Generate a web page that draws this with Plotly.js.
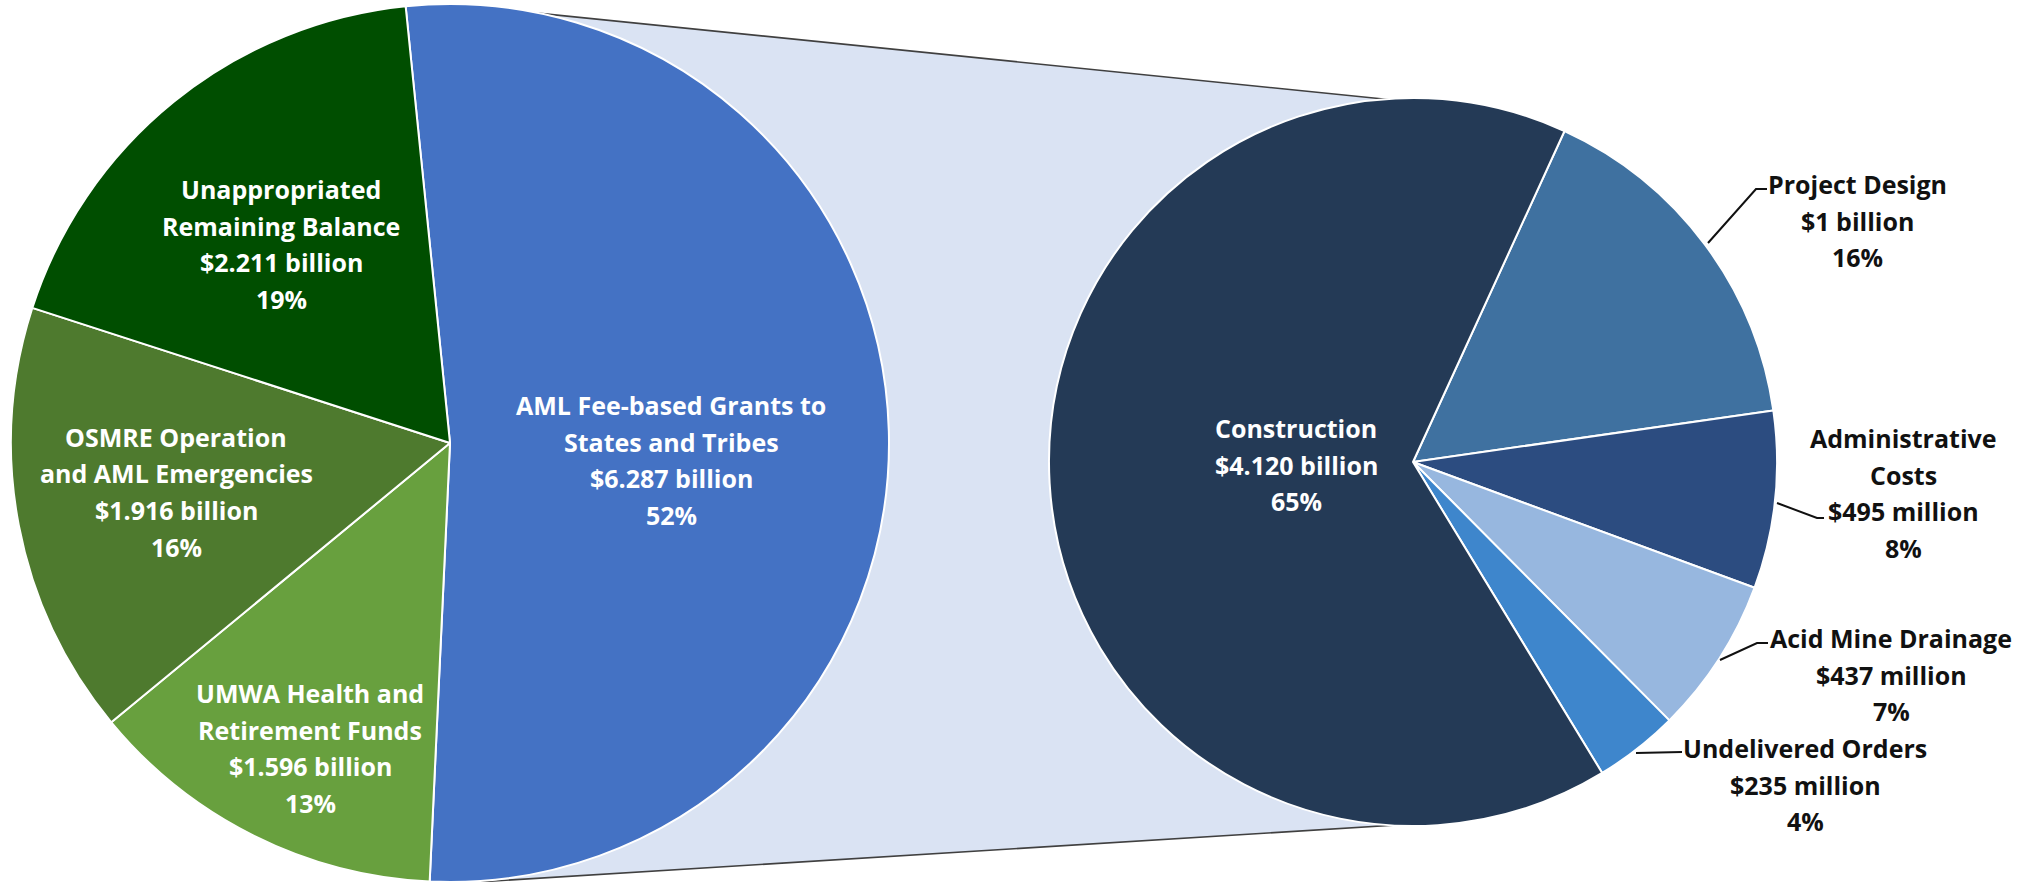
<!DOCTYPE html>
<html><head><meta charset="utf-8">
<script src="https://cdn.plot.ly/plotly-3.0.1.min.js"></script>
<style>html,body{margin:0;padding:0;background:#fff;overflow:hidden}#chart{width:2026px;height:882px}</style>
</head><body><div id="chart"></div>
<script>
// ---- data: first pie ----
const mainLabels = ['AML Fee-based Grants to<br>States and Tribes', 'UMWA Health and<br>Retirement Funds', 'OSMRE Operation<br>and AML Emergencies', 'Unappropriated<br>Remaining Balance'];
const mainValues = [6.287, 1.596, 1.916, 2.211];
const mainAmountText = ['$6.287 billion', '$1.596 billion', '$1.916 billion', '$2.211 billion'];
const mainPercentText = ['52%', '13%', '16%', '19%'];

// ---- data: second pie (breakdown of AML Fee-based Grants) ----
const subLabels = ['Project Design', 'Administrative<br>Costs', 'Acid Mine Drainage', 'Undelivered Orders', 'Construction'];
const subValues = [1.000, 0.495, 0.437, 0.235, 4.120];
const subAmountText = ['$1 billion', '$495 million', '$437 million', '$235 million', '$4.120 billion'];
const subPercentText = ['16%', '8%', '7%', '4%', '65%'];

// ---- styling ----
const mainColors = ['#4472C4', '#68A03E', '#4E7A2E', '#004E00'];
const subColors = ['#3F71A0', '#2C4C80', '#97B7DF', '#3E86CC', '#243A56'];
const mainTextColors = ['#FFFFFF', '#FFFFFF', '#FFFFFF', '#FFFFFF'];
const subTextColors = ['#111111', '#111111', '#111111', '#111111', '#FFFFFF'];
// label block positions in pixels: [center x, first line y]
const mainLabelPos = [[671, 405], [310, 693], [176, 437], [281, 189]];
const subLabelPos = [[1857, 184], [1903, 438], [1891, 638], [1805, 748], [1296, 428]];
const lineGap = 36.5;
const subLeaders = [
  [[1708, 243], [1756, 189], [1767, 189]],
  [[1777, 503], [1817, 518], [1824, 518]],
  [[1720, 660], [1757, 643], [1768, 643]],
  [[1636, 753], [1682, 752]],
  null
];

const W = 2026, H = 882;
const px = x => x / W;
const py = y => 1 - y / H;
const pathOf = pts => pts.map((p, i) => (i ? 'L' : 'M') + px(p[0]).toFixed(5) + ',' + py(p[1]).toFixed(5)).join(' ');

const FONT = 'Open Sans, Lato, sans-serif';

const traces = [
  {
    type: 'pie', labels: mainLabels, values: mainValues, sort: false,
    direction: 'clockwise', rotation: -5.8, textinfo: 'none', hoverinfo: 'label+value',
    marker: {colors: mainColors, line: {color: '#FFFFFF', width: 2}},
    domain: {x: [11 / W, 889 / W], y: [0, 1 - 4 / H]}, showlegend: false
  },
  {
    type: 'pie', labels: subLabels, values: subValues, sort: false,
    direction: 'clockwise', rotation: 24.6, textinfo: 'none', hoverinfo: 'label+value',
    marker: {colors: subColors, line: {color: '#FFFFFF', width: 2}},
    domain: {x: [1049 / W, 1777 / W], y: [1 - 826 / H, 1 - 98 / H]}, showlegend: false
  }
];

const annotations = [];
function addBlock(label, amount, pct, pos, color) {
  const lines = label.split('<br>').concat([amount, pct]);
  lines.forEach((t, i) => {
    annotations.push({
      xref: 'paper', yref: 'paper', x: px(pos[0]), y: py(pos[1] + i * lineGap),
      text: t, showarrow: false, xanchor: 'center', yanchor: 'middle',
      font: {family: FONT, size: 25, weight: 700, color: color}
    });
  });
}
mainLabels.forEach((l, i) => addBlock(l, mainAmountText[i], mainPercentText[i], mainLabelPos[i], mainTextColors[i]));
subLabels.forEach((l, i) => addBlock(l, subAmountText[i], subPercentText[i], subLabelPos[i], subTextColors[i]));

// connector band between the two pies
const topLine = [[480, 7.3], [1413, 102]];
const botLine = [[440, 884.3], [1413, 824]];
const shapes = [
  {type: 'path', xref: 'paper', yref: 'paper', layer: 'below',
   path: pathOf([topLine[0], topLine[1], botLine[1], botLine[0]]) + ' Z',
   fillcolor: '#DAE3F3', line: {width: 0}},
  {type: 'path', xref: 'paper', yref: 'paper', layer: 'below', path: pathOf(topLine), line: {color: '#404040', width: 1.6}},
  {type: 'path', xref: 'paper', yref: 'paper', layer: 'below', path: pathOf(botLine), line: {color: '#404040', width: 1.6}}
];
subLeaders.forEach(pts => {
  if (!pts) return;
  shapes.push({type: 'path', xref: 'paper', yref: 'paper', layer: 'above', path: pathOf(pts), line: {color: '#111111', width: 2}});
});

const layout = {
  width: W, height: H, margin: {l: 0, r: 0, t: 0, b: 0},
  paper_bgcolor: '#FFFFFF', plot_bgcolor: '#FFFFFF',
  showlegend: false, annotations: annotations, shapes: shapes
};
Plotly.newPlot('chart', traces, layout, {displayModeBar: false, staticPlot: true});
</script>
</body></html>
